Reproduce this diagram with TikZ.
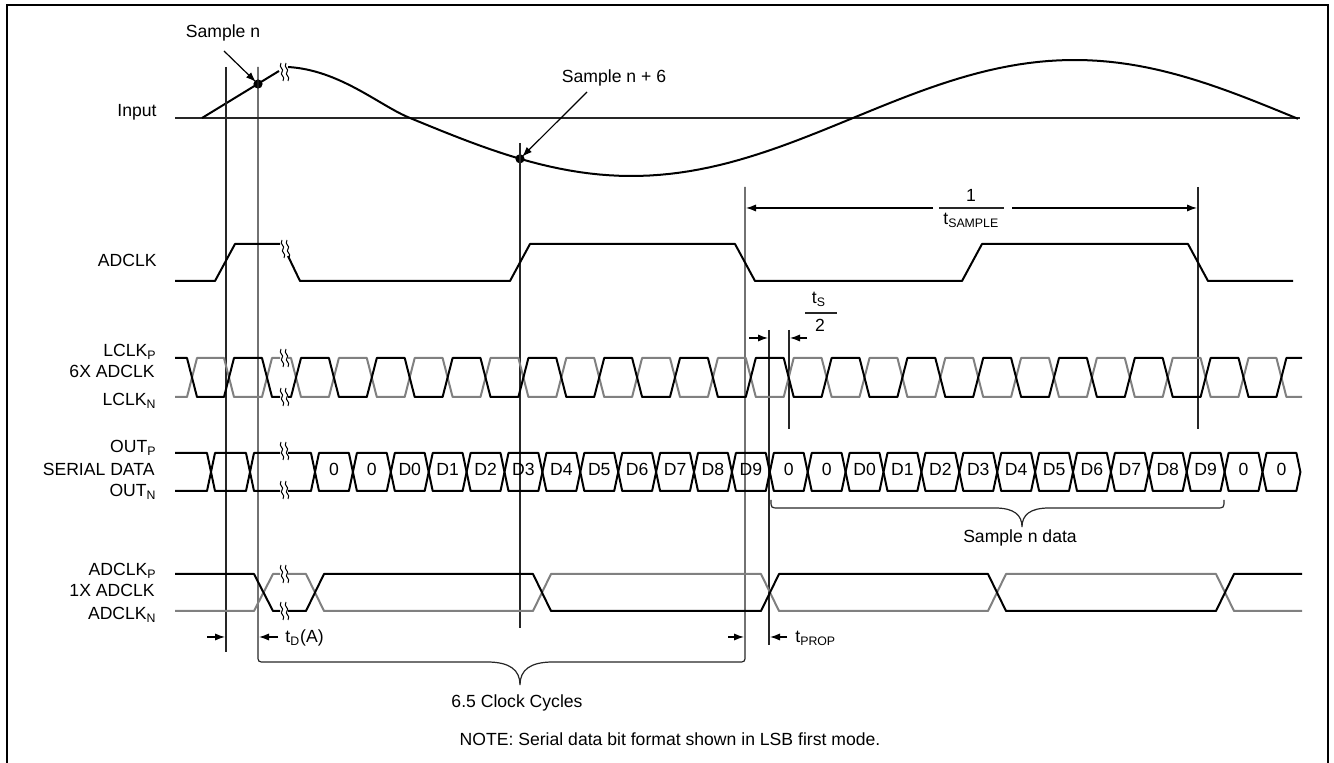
\documentclass[tikz,border=0pt]{standalone}
\usepackage{fontspec}
\setmainfont{Liberation Sans}
\usetikzlibrary{arrows.meta}
\newcommand\lstep{37.9}
\tikzset{
  sig/.style={line width=1pt,line join=round},
  sigg/.style={sig,color=gray},
  guide/.style={line width=0.6pt,color=black!85},
  dimarr/.style={line width=0.6pt,-{Latex[length=5pt,width=3.6pt]}},
  rowlbl/.style={anchor=base east,inner sep=0pt},
  txtlbl/.style={anchor=base,inner sep=0pt},
  brk/.pic={\draw[line width=0.5pt] (-3,-9) .. controls (-6,-4) and (1,-3) .. (-2,0) .. controls (-5,3) and (2,4) .. (-1,9);
            \draw[line width=0.5pt] (2,-9) .. controls (-1,-4) and (6,-3) .. (3,0) .. controls (0,3) and (7,4) .. (4,9);}
}
\begin{document}
\begin{tikzpicture}[x=0.5pt,y=-0.5pt,font=\fontsize{8.8pt}{10pt}\selectfont]
\useasboundingbox (0,0) rectangle (1334,763);
\draw[line width=1.1pt] (7,763) -- (7,5) -- (1328,5) -- (1328,763);

\node[rowlbl] (input) at (157,117) {Input};
\draw[guide] (175,118) -- (1300,118);
\draw[sig] (202,118) -- (279,71);
\pic at (284,72) {brk};
\draw[sig] (288,67) .. controls (340,70) and (380,106) .. (410,118)
  -- plot[domain=410:1298,samples=90] (\x,{118+58*sin((\x-410)/443*180)});
\coordinate (dotn) at (258,84);
\coordinate (dotm) at (520,{118+58*sin(110/443*180)});
\fill (dotn) circle[radius=2.3pt];
\fill (dotm) circle[radius=2.3pt];
\node[txtlbl] (smpn) at (223,38) {Sample n};
\node[txtlbl] (smpm) at (614,83) {Sample n + 6};
\coordinate (smpna) at (224,51);
\coordinate (smpma) at (587,92);
\draw[dimarr,shorten >=1.5pt] (smpna) -- (dotn);
\draw[dimarr,shorten >=1.5pt] (smpma) -- (dotm);

\draw[guide] (226,67) -- (226,652);
\draw[guide] (258,67) -- (258,655) .. controls (258,662) .. (265,662) -- (487,662) .. controls (510,662) and (520,670) .. (520,685)
  .. controls (520,670) and (530,662) .. (553,662) -- (738,662) .. controls (745,662) .. (745,655) -- (745,187);
\draw[guide] (520,143) -- (520,628);
\draw[guide] (1198,187) -- (1198,429);
\draw[guide] (769,330) -- (769,645);
\draw[guide] (789,330) -- (789,429);
\draw[guide] (771,500) .. controls (771,508) .. (779,508) -- (995,508) .. controls (1014,508) and (1022,515) .. (1022,527)
  .. controls (1022,515) and (1030,508) .. (1049,508) -- (1216,508) .. controls (1224,508) .. (1224,500);

\node[rowlbl] (adclk) at (157,267) {ADCLK};
\draw[sig] (175,281) -- (215,281) -- (235,244) -- (280,244);
\pic at (285,249) {brk};
\draw[sig] (288,256) -- (300,281) -- (510,281) -- (530,244) -- (735,244) -- (755,281) -- (962,281) -- (982,244) -- (1188,244) -- (1208,281) -- (1293,281);
\draw[dimarr] (933,208) -- (746,208);
\draw[guide] (939,208) -- (1004,208);
\draw[dimarr] (1012,208) -- (1197,208);
\node[txtlbl] (one) at (971,202) {1};
\node[anchor=base west,inner sep=0pt] (tsmp) at (943,225) {t\textsubscript{SAMPLE}};

\node[rowlbl] (lclkp) at (157,357) {LCLK\textsubscript{P}};
\node[rowlbl] (lclkx) at (155,378) {6X ADCLK};
\node[rowlbl] (lclkn) at (157,406) {LCLK\textsubscript{N}};
\draw[sigg] (175,397) -- (187,397) -- (197,358) -- (224,358) -- (234,397) -- (262,397) -- (272,358) -- (280,358);
\draw[sigg] (288,358) \foreach \k in {0,...,12} { -- ({296+2*\k*\lstep-5},358) -- ({296+2*\k*\lstep+5},397) -- ({296+(2*\k+1)*\lstep-5},397) -- ({296+(2*\k+1)*\lstep+5},358) } -- (1276.4,358) -- (1286.4,397) -- (1302,397);
\draw[sig] (175,358) -- (187,358) -- (197,397) -- (224,397) -- (234,358) -- (262,358) -- (272,397) -- (280,397);
\draw[sig] (288,397) \foreach \k in {0,...,12} { -- ({296+2*\k*\lstep-5},397) -- ({296+2*\k*\lstep+5},358) -- ({296+(2*\k+1)*\lstep-5},358) -- ({296+(2*\k+1)*\lstep+5},397) } -- (1276.4,397) -- (1286.4,358) -- (1302,358);
\pic at (284,358) {brk};
\pic at (284,397) {brk};
\draw[dimarr] (749,338) -- (768,338);
\draw[dimarr] (807,338) -- (790,338);
\node[txtlbl] (ts) at (819,304) {t\textsubscript{S}};
\draw[guide] (805,313) -- (837,313);
\node[txtlbl] (two) at (820,332) {2};

\node[rowlbl] (outp) at (157,453) {OUT\textsubscript{P}};
\node[rowlbl] (serd) at (155,476) {SERIAL DATA};
\node[rowlbl] (outn) at (157,497) {OUT\textsubscript{N}};
\draw[sig] (175,453) -- (207,453) -- (215,491) -- (246,491) -- (254,453) -- (280,453);
\draw[sig] (175,491) -- (207,491) -- (215,453) -- (246,453) -- (254,491) -- (280,491);
\pic at (284,451) {brk};
\pic at (284,490) {brk};
\draw[sig] (288,453) -- (311,453) -- (315,472) -- (311,491) -- (288,491);
\foreach \lab [count=\k from 0] in {0,0,D0,D1,D2,D3,D4,D5,D6,D7,D8,D9,0,0,D0,D1,D2,D3,D4,D5,D6,D7,D8,D9,0,0} {
  \draw[sig] ({315+\k*\lstep},472) -- ({315+\k*\lstep+4},453) -- ({315+(\k+1)*\lstep-4},453) -- ({315+(\k+1)*\lstep},472) -- ({315+(\k+1)*\lstep-4},491) -- ({315+\k*\lstep+4},491) -- cycle;
  \node[txtlbl] (bit\k) at ({315+(\k+0.5)*\lstep},476) {\lab};
}
\node[txtlbl] (sdata) at (1020,543) {Sample n data};

\node[rowlbl] (fclkp) at (157,576) {ADCLK\textsubscript{P}};
\node[rowlbl] (fclkx) at (155,597) {1X ADCLK};
\node[rowlbl] (fclkn) at (157,620) {ADCLK\textsubscript{N}};
\draw[sigg] (175,611) -- (254,611) -- (273,574) -- (280,574);
\draw[sigg] (288,574) -- (306,574) -- (324,611) -- (533,611) -- (551,574) -- (761,574) -- (779,611) -- (988,611) -- (1006,574) -- (1216,574) -- (1234,611) -- (1302,611);
\draw[sig] (175,574) -- (254,574) -- (273,611) -- (280,611);
\draw[sig] (288,611) -- (306,611) -- (324,574) -- (533,574) -- (551,611) -- (761,611) -- (779,574) -- (988,574) -- (1006,611) -- (1216,611) -- (1234,574) -- (1302,574);
\pic at (284,574) {brk};
\pic at (284,611) {brk};

\draw[dimarr] (207,637) -- (225,637);
\draw[dimarr] (278,637) -- (259,637);
\node[anchor=base west,inner sep=0pt] (tda) at (285,643) {t\textsubscript{D}(A)};
\draw[dimarr] (728,637) -- (744,637);
\draw[dimarr] (787,637) -- (770,637);
\node[anchor=base west,inner sep=0pt] (tprop) at (795,643) {t\textsubscript{PROP}};
\node[txtlbl] (cyc) at (517,708) {6.5 Clock Cycles};
\node[txtlbl] (note) at (670,746) {NOTE: Serial data bit format shown in LSB first mode.};
\end{tikzpicture}
\end{document}
